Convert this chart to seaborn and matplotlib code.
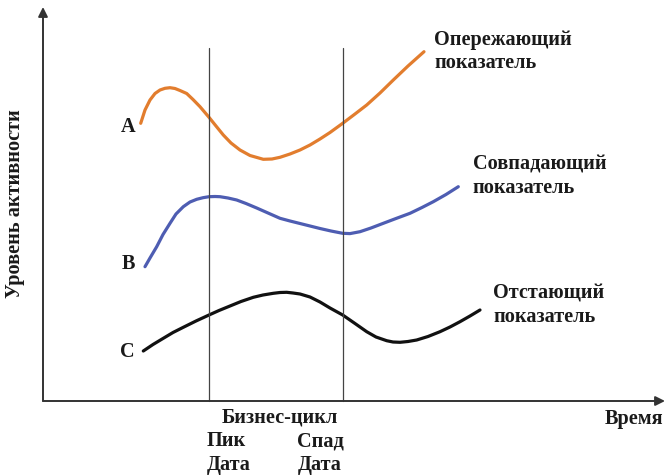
import numpy as np
import pandas as pd
import matplotlib
matplotlib.use("Agg")
import matplotlib.pyplot as plt
import seaborn as sns

# Values: time runs right from the origin, activity level runs up.
lead_t = [97.7, 102, 107, 112, 117, 122, 127, 132, 137, 143.7, 150, 157, 166, 173, 180.3, 188, 197, 207,
          220.3, 229, 237, 247, 257, 267, 277, 287, 299.7, 312, 323.7, 337, 350.3, 365, 381]
lead_y = [277.7, 291, 301, 307.5, 311, 312.7, 313.3, 312.5, 310.5, 307.5, 301.5, 294.3, 283.7, 275, 266, 258, 251, 245.5,
          241.7, 242, 243.7, 247, 251, 256, 262, 268.5, 277.7, 287, 296, 308, 321, 335, 349.3]

coin_t = [102, 107, 113.7, 120, 127, 133, 140.3, 147, 153.7, 160, 166, 172, 177, 185, 193.7, 203, 213.7, 225,
          237, 247, 257, 267, 277, 288, 299.7, 307, 317, 328, 340.3, 353, 367, 379, 390.3, 403, 415.3]
coin_y = [134.3, 143, 154.3, 166.5, 177.7, 187, 194.3, 199, 201.7, 203.3, 204.3, 204.5, 204.3, 203, 201, 197.5, 193, 188,
          182.7, 180, 177.5, 175, 172.5, 170, 167.7, 167.4, 169.3, 173, 177.7, 182.5, 187.7, 193.5, 199.3, 206.5, 214.3]

lag_t = [100.3, 110, 120.3, 130, 140.3, 153, 166, 176, 187, 198, 210.3, 220, 230.3, 237, 243.7, 250, 257, 267, 277,
         287, 299.7, 312, 323.7, 333, 343.7, 350, 357, 365, 373.7, 385, 397, 407, 417, 427, 437]
lag_y = [50, 56.5, 62.7, 68.5, 73.7, 80, 86, 90.5, 95, 99.5, 103.7, 106, 107.7, 108.5, 108.7, 108, 107, 104, 99,
         93, 86, 77.5, 69.3, 64, 60.3, 59, 58.7, 59.5, 61, 64.5, 69.3, 74, 79.3, 85, 91]

peak_t = 166
trough_t = 300

series_names = [("Опережающий", "показатель"), ("Совпадающий", "показатель"), ("Отстающий", "показатель")]
series_letters = ["A", "B", "C"]
series_colors = ["#E27D2E", "#4E5DB2", "#111111"]

# text anchors (left x, first baseline) for the series names and the letters
name_pos = [(391, 356), (429.7, 231.7), (450, 102.7)]
letter_pos = [(92, 274), (92, 137), (92, 49)]

sns.set_style("white")
plt.rcParams['font.family'] = ['Liberation Serif', 'DejaVu Serif']

fig = plt.figure(figsize=(6.66, 4.75), dpi=100)
ax = fig.add_axes([0, 0, 1, 1])

frames = [(lead_t, lead_y), (coin_t, coin_y), (lag_t, lag_y)]
for (t, y), c in zip(frames, series_colors):
    df = pd.DataFrame({'t': t, 'y': y})
    sns.lineplot(data=df, x='t', y='y', sort=False, color=c, lw=2.3, ax=ax,
                 solid_joinstyle='round', solid_capstyle='round')

ax.set_xlim(-43, 623)
ax.set_ylim(-74, 401)
ax.set_xlabel('')
ax.set_ylabel('')
ax.axis('off')

# axes with arrows
arrow = dict(arrowstyle='-|>', color='#333333', lw=1.4, mutation_scale=14, shrinkA=0, shrinkB=0)
ax.annotate('', xy=(622, 0), xytext=(0, 0), arrowprops=arrow)
ax.annotate('', xy=(0, 394), xytext=(0, 0), arrowprops=arrow)

# peak / trough markers
for t in [peak_t, trough_t]:
    ax.plot([t, t], [0, 353], color='#444444', lw=0.9)

fs = 14.6
bold = dict(fontsize=fs, fontweight='bold', color='#1a1a1a')

for (x, y), letter in zip(letter_pos, series_letters):
    ax.text(x, y, letter, ha='right', va='center', **bold)

for (x, y), (l1, l2) in zip(name_pos, series_names):
    ax.text(x, y, l1, ha='left', va='baseline', **bold)
    ax.text(x, y - 23.3, l2, ha='left', va='baseline', **bold)

ax.text(178.7, -21, 'Бизнес-цикл', ha='left', va='baseline', **bold)
ax.text(163.7, -45, 'Пик', ha='left', va='baseline', **bold)
ax.text(254.3, -45, 'Спад', ha='left', va='baseline', **bold)
ax.text(163.7, -69, 'Дата', ha='left', va='baseline', **bold)
ax.text(254.3, -69, 'Дата', ha='left', va='baseline', **bold)
ax.text(620.3, -23, 'Время', ha='right', va='baseline', **bold)
ax.text(-28, 197.5, 'Уровень активности', ha='center', va='center', rotation=90, **bold)

fig.savefig('out.png', dpi=100)
